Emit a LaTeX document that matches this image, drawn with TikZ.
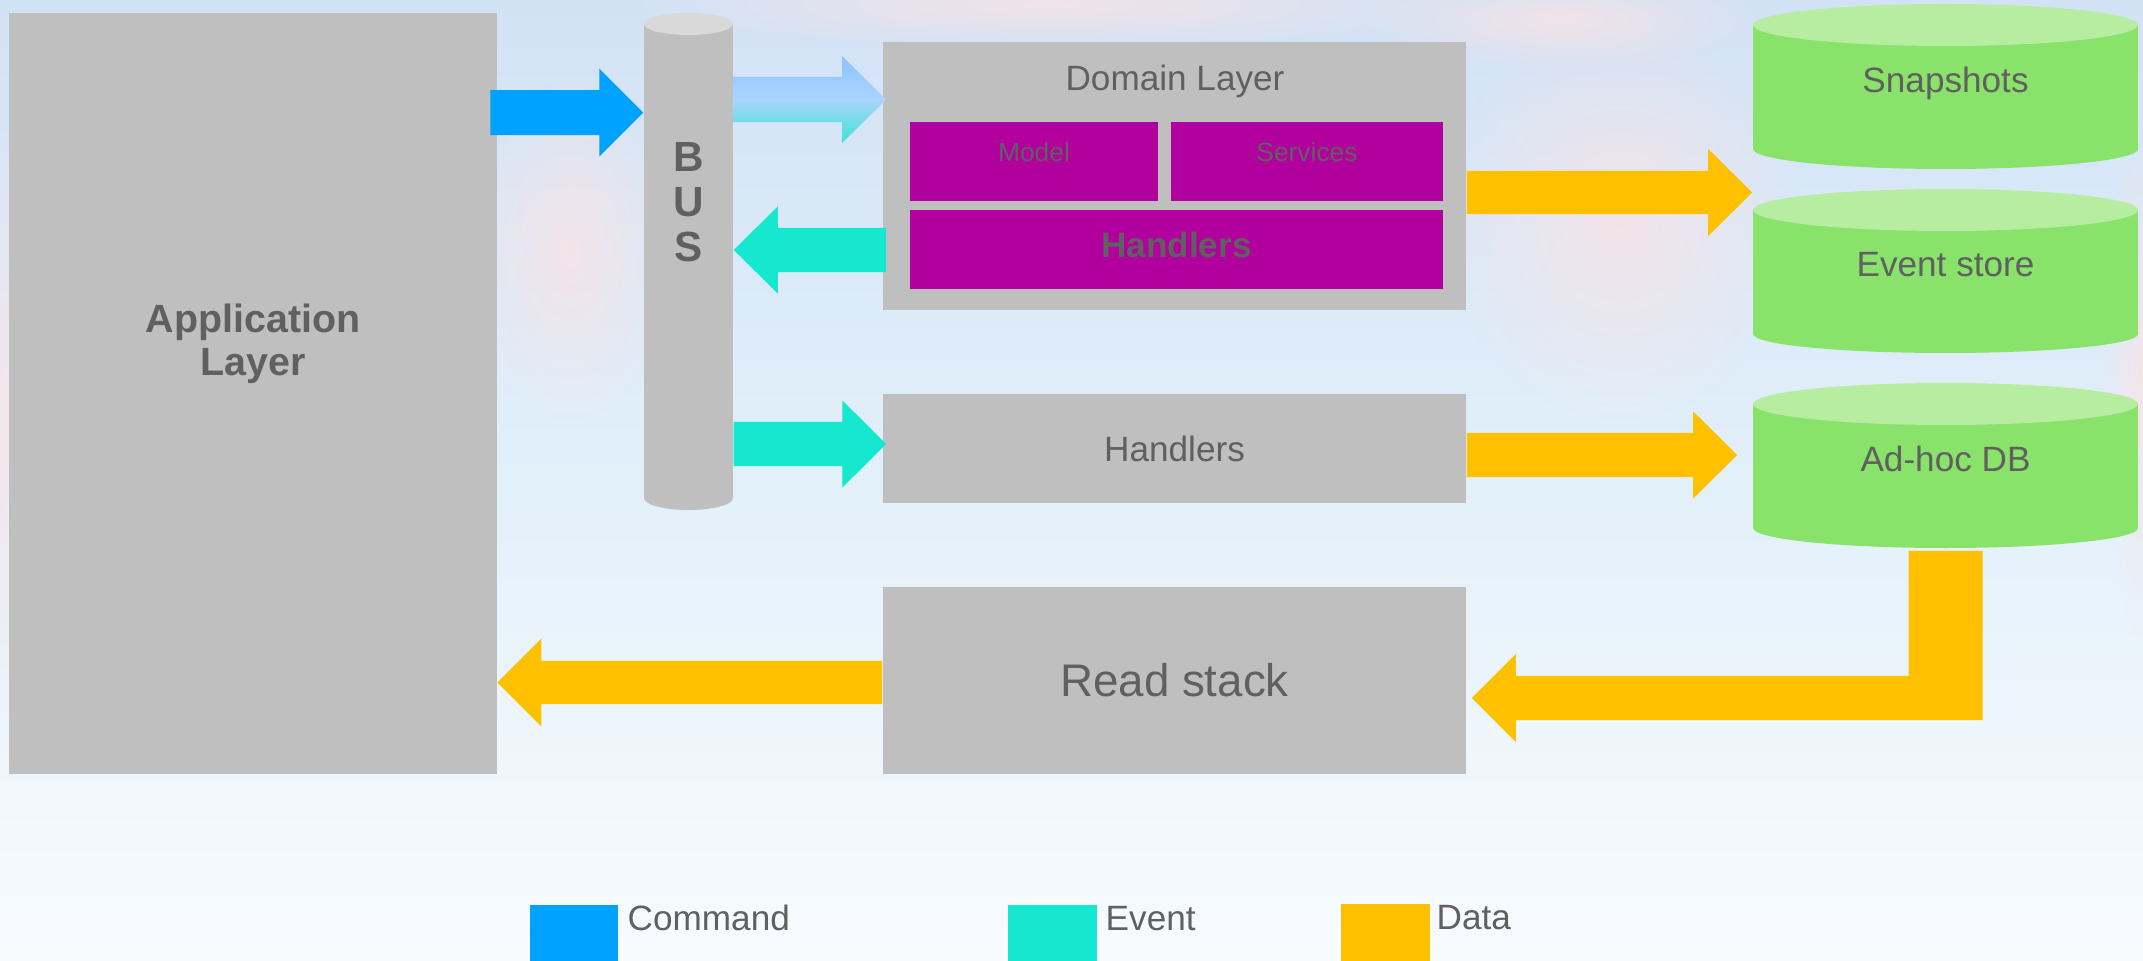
\documentclass[tikz,border=0pt]{standalone}
\usepackage{fontspec}
\setmainfont{Liberation Sans}
\usetikzlibrary{calc,fadings}
\definecolor{boxgray}{RGB}{191,191,191}
\definecolor{bustop}{RGB}{217,217,217}
\definecolor{txtgray}{RGB}{96,96,96}
\definecolor{hmag}{RGB}{178,0,158}
\definecolor{cmdblue}{RGB}{0,162,255}
\definecolor{evtteal}{RGB}{22,232,208}
\definecolor{dataorange}{RGB}{255,192,0}
\definecolor{dbgreen}{RGB}{137,226,106}
\definecolor{dbtop}{RGB}{183,237,161}
\definecolor{bgtop}{RGB}{210,226,245}
\definecolor{bgmid}{RGB}{226,240,250}
\definecolor{bgbot}{RGB}{248,251,254}
\definecolor{cloudpink}{RGB}{252,226,228}
\definecolor{gradtop}{RGB}{140,195,255}
\definecolor{gradmid}{RGB}{170,212,255}
\definecolor{gradbot}{RGB}{60,228,210}
\tikzfading[name=fuzzyblob, inner color=transparent!0, outer color=transparent!100]
% #1 style, #2 start, #3 tip, #4 shaft half width, #5 head half width, #6 signed offset tip->head base
\newcommand\blockarrow[6]{%
  \path[#1] let \p1=#2, \p2=#3 in
    (\x1,{\y1+(#4)}) -- ({\x2+(#6)},{\y1+(#4)}) -- ({\x2+(#6)},{\y1+(#5)}) -- (\x2,\y1)
    -- ({\x2+(#6)},{\y1-(#5)}) -- ({\x2+(#6)},{\y1-(#4)}) -- (\x1,{\y1-(#4)}) -- cycle;}
\tikzset{
  graybox/.style={fill=boxgray, inner sep=0, draw=none, text=txtgray},
  magbox/.style={fill=hmag, inner sep=0, draw=none},
  txt/.style={text=txtgray, inner sep=0},
  holder/.style={inner sep=0, draw=none},
  cloud/.style={fill=cloudpink, path fading=fuzzyblob, fill opacity=0.75},
}
\begin{document}
\begin{tikzpicture}[x=0.01cm, y=-0.01cm]
\useasboundingbox (0,0) rectangle (2143,961);
\shade[top color=bgtop, bottom color=bgbot, middle color=bgmid] (0,0) rectangle (2143,961);
% soft clouds of the backdrop
\fill[cloud] (10,420) ellipse [x radius=60, y radius=300];
\fill[cloud] (570,250) ellipse [x radius=110, y radius=170];
\fill[cloud] (1050,5) ellipse [x radius=420, y radius=45];
\fill[cloud] (1620,220) ellipse [x radius=180, y radius=200];
\fill[cloud] (1560,20) ellipse [x radius=200, y radius=50];
\fill[cloud] (2143,380) ellipse [x radius=40, y radius=260];

% Application layer
\node[graybox, minimum width=4.87cm, minimum height=7.60cm] (app) at (253,393.6) {};
\node[txt, font=\bfseries\fontsize{11.2}{12.4}\selectfont, align=center] (apptxt) at (253,344) {Application\\Layer};

% BUS cylinder
\node[holder, minimum width=0.89cm, minimum height=4.97cm] (bus) at (688.5,261.5) {};
\fill[boxgray] (644,24) rectangle (733,498);
\fill[boxgray] (688.5,498) ellipse [x radius=44.5, y radius=12];
\fill[bustop] (688.5,24) ellipse [x radius=44.5, y radius=11];
\node[txt, font=\bfseries\fontsize{12}{12.8}\selectfont, align=center] (bustxt) at (688.5,202.5) {B\\U\\S};

% Domain layer
\node[graybox, minimum width=5.83cm, minimum height=2.68cm] (dom) at (1174.5,176) {};
\node[txt, anchor=base, font=\fontsize{10}{12}\selectfont] (domtxt) at (1175,90.5) {Domain Layer};
\node[magbox, minimum width=2.48cm, minimum height=0.79cm] (model) at (1034,161.5) {};
\node[txt, font=\fontsize{7.5}{9}\selectfont] (modeltxt) at (1034,152.5) {Model};
\node[magbox, minimum width=2.72cm, minimum height=0.79cm] (serv) at (1307,161.5) {};
\node[txt, font=\fontsize{7.5}{9}\selectfont] (servtxt) at (1307,152.5) {Services};
\node[magbox, minimum width=5.33cm, minimum height=0.79cm] (dhand) at (1176.5,249.5) {};
\node[txt, font=\bfseries\fontsize{10}{12}\selectfont] (dhandtxt) at (1176.5,245) {Handlers};

% Handlers and read stack
\node[graybox, minimum width=5.83cm, minimum height=1.09cm, font=\fontsize{10}{12}\selectfont] (hand) at (1174.5,448.5) {Handlers};
\node[graybox, minimum width=5.83cm, minimum height=1.86cm, font=\fontsize{13}{15}\selectfont] (read) at (1174.5,680.5) {Read stack};

% Databases
\node[holder, minimum width=3.85cm, minimum height=1.65cm] (snap) at (1945.5,86.5) {};
\fill[dbgreen] (1753,25) rectangle (2138,149);
\fill[dbgreen] (1945.5,149) ellipse [x radius=192.5, y radius=20];
\fill[dbtop] (1945.5,25) ellipse [x radius=192.5, y radius=21];
\node[txt, anchor=base, font=\fontsize{10}{12}\selectfont] (snaptxt) at (1945.5,92.5) {Snapshots};

\node[holder, minimum width=3.85cm, minimum height=1.64cm] (evs) at (1945.5,271) {};
\fill[dbgreen] (1753,210) rectangle (2138,334);
\fill[dbgreen] (1945.5,334) ellipse [x radius=192.5, y radius=19];
\fill[dbtop] (1945.5,210) ellipse [x radius=192.5, y radius=21];
\node[txt, anchor=base, font=\fontsize{10}{12}\selectfont] (evstxt) at (1945.5,276.7) {Event store};

\node[holder, minimum width=3.85cm, minimum height=1.65cm] (adhoc) at (1945.5,465.5) {};
\fill[dbgreen] (1753,404) rectangle (2138,528);
\fill[dbgreen] (1945.5,528) ellipse [x radius=192.5, y radius=20];
\fill[dbtop] (1945.5,404) ellipse [x radius=192.5, y radius=21];
\node[txt, anchor=base, font=\fontsize{10}{12}\selectfont] (adhoctxt) at (1945.5,471) {Ad-hoc DB};

% Arrows
\blockarrow{fill=cmdblue}{($(app.east|-0,112.7)+(-7,0)$)}{(bus.west|-0,112.7)}{0.225cm}{0.44cm}{-0.44cm}
\blockarrow{top color=gradtop, bottom color=gradbot, middle color=gradmid}{(bus.east|-0,99.5)}{($(dom.west|-0,99.5)+(4,0)$)}{0.225cm}{0.435cm}{-0.44cm}
\blockarrow{fill=evtteal}{($(dom.west|-0,250)+(4,0)$)}{(bus.east|-0,250)}{0.22cm}{0.435cm}{0.44cm}
\blockarrow{fill=evtteal}{(bus.east|-0,444)}{($(hand.west|-0,444)+(4,0)$)}{0.22cm}{0.435cm}{-0.437cm}
\blockarrow{fill=dataorange}{(dom.east|-0,192.5)}{(evs.west|-0,192.5)}{0.215cm}{0.435cm}{-0.44cm}
\blockarrow{fill=dataorange}{(hand.east|-0,455)}{($(adhoc.west|-0,455)+(-15,0)$)}{0.22cm}{0.435cm}{-0.44cm}
\blockarrow{fill=dataorange}{(read.west|-0,682.5)}{(app.east|-0,682.5)}{0.215cm}{0.44cm}{0.44cm}
\fill[dataorange] let \p1=($(adhoc.south)+(0,2)$), \p2=($(read.east|-0,698)+(5,0)$) in
  ({\x1-0.37cm},\y1) -- ({\x1+0.37cm},\y1) -- ({\x1+0.37cm},{\y2-0.22cm}) -- ({\x2+0.44cm},{\y2-0.22cm})
  -- ({\x2+0.44cm},{\y2-0.44cm}) -- (\x2,\y2) -- ({\x2+0.44cm},{\y2+0.44cm}) -- ({\x2+0.44cm},{\y2+0.22cm})
  -- ({\x1-0.37cm},{\y2+0.22cm}) -- cycle;

% Legend
\node[holder, fill=cmdblue, minimum width=0.88cm, minimum height=0.56cm] (legcmd) at (574,933) {};
\node[txt, anchor=base west, font=\fontsize{10}{12}\selectfont] (legcmdtxt) at (627,930.7) {Command};
\node[holder, fill=evtteal, minimum width=0.89cm, minimum height=0.56cm] (legevt) at (1052.5,933) {};
\node[txt, anchor=base west, font=\fontsize{10}{12}\selectfont] (legevttxt) at (1105,930.7) {Event};
\node[holder, fill=dataorange, minimum width=0.89cm, minimum height=0.57cm] (legdat) at (1385.5,932.5) {};
\node[txt, anchor=base west, font=\fontsize{10}{12}\selectfont] (legdattxt) at (1436,929) {Data};
\end{tikzpicture}
\end{document}
